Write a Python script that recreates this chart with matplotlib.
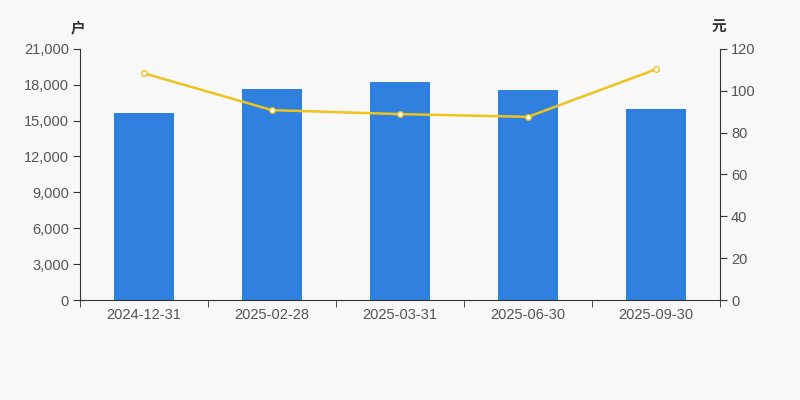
import matplotlib
matplotlib.use("Agg")
from matplotlib import pyplot as plt
from matplotlib.ticker import FuncFormatter, FixedLocator

plt.rcParams['font.family'] = ['Liberation Sans', 'Noto Sans CJK SC', 'DejaVu Sans']

dates = ["2024-12-31", "2025-02-28", "2025-03-31", "2025-06-30", "2025-09-30"]
holders = [15600, 17650, 18200, 17550, 16000]
avg_value = [108.3, 90.7, 88.8, 87.5, 110.2]

bg = "#f8f8f8"
axis_color = "#333333"
label_color = "#555555"

fig = plt.figure(figsize=(8, 4), dpi=100, facecolor=bg)
ax = fig.add_axes([0.1, 0.25, 0.8, 0.628])
ax.set_facecolor(bg)
ax2 = ax.twinx()

x = list(range(len(dates)))
ax.bar(x, holders, width=0.47, color="#3080e0", zorder=2)
ax2.plot(x, avg_value, color="#eec31c", lw=1.8, marker="o", ms=4,
         mfc="white", mec="#eec31c", mew=1.0, zorder=3)

ax.set_xlim(-0.5, len(dates) - 0.5)
ax.set_ylim(0, 21000)
ax.set_yticks(range(0, 21001, 3000))
ax.yaxis.set_major_formatter(FuncFormatter(lambda v, p: f"{int(v):,}"))
ax2.set_ylim(0, 120)
ax2.set_yticks(range(0, 121, 20))

ax.set_xticks(x)
ax.set_xticklabels(dates)
ax.xaxis.set_minor_locator(FixedLocator([i - 0.5 for i in range(len(dates) + 1)]))
ax.tick_params(axis="x", which="major", length=0, pad=6, labelsize=10.5, labelcolor=label_color)
ax.tick_params(axis="x", which="minor", length=5, color=axis_color)
ax.tick_params(axis="y", length=5, color=axis_color, labelsize=10.5, labelcolor=label_color, pad=3)
ax2.tick_params(axis="y", length=5, color=axis_color, labelsize=10.5, labelcolor=label_color, pad=3)

for a in (ax, ax2):
    a.spines["top"].set_visible(False)
    for s in ("left", "right", "bottom"):
        a.spines[s].set_color(axis_color)
        a.spines[s].set_linewidth(0.8)
ax.spines["right"].set_visible(False)
ax2.spines["left"].set_visible(False)
ax2.spines["bottom"].set_visible(False)

fig.text(0.0975, 0.932, "户", ha="center", va="center", fontsize=10.5, color=axis_color,
         weight="bold", family=['Noto Sans CJK SC', 'DejaVu Sans'])
fig.text(0.899, 0.932, "元", ha="center", va="center", fontsize=10.5, color=axis_color,
         weight="bold", family=['Noto Sans CJK SC', 'DejaVu Sans'])

fig.savefig("out.png", dpi=100, facecolor=bg)
